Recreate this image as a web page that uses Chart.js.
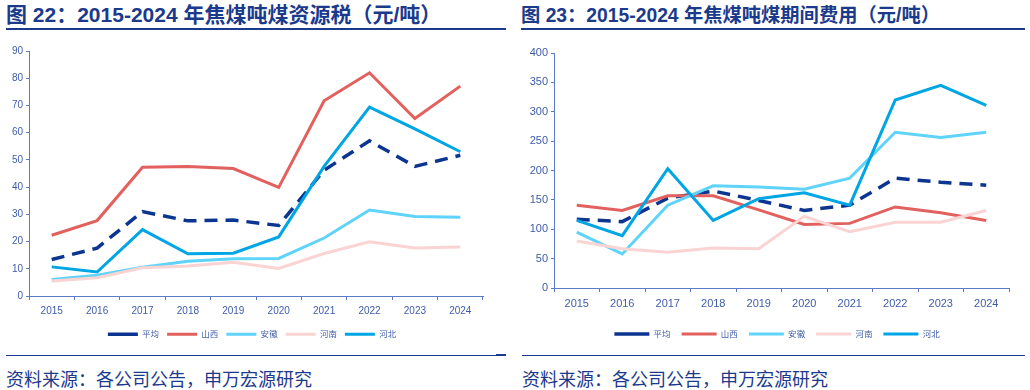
<!DOCTYPE html>
<html><head><meta charset="utf-8">
<script src="https://cdn.jsdelivr.net/npm/chart.js@4.4.1/dist/chart.umd.min.js"></script>
<style>
html,body{margin:0;padding:0;background:#fff;}
body{width:1030px;height:390px;overflow:hidden;position:relative;font-family:"Noto Sans CJK SC",sans-serif;}
.title{position:absolute;top:3px;font-weight:bold;color:#1b3a8c;white-space:nowrap;line-height:24px;font-family:"Liberation Sans","Noto Sans CJK SC",sans-serif;}
.rule{position:absolute;background:#1b3a8c;}
.src{position:absolute;top:366px;font-size:18px;color:#1b3a8c;line-height:24px;white-space:nowrap;}
canvas{position:absolute;}
</style></head><body>
<div class="title" style="left:6px;font-size:21px">图 22：2015-2024 年焦煤吨煤资源税（元/吨）</div>
<div class="title" style="left:521px;font-size:19.3px;top:4px">图 23：2015-2024 年焦煤吨煤期间费用（元/吨）</div>
<div class="rule" style="left:6px;top:28px;width:500px;height:2px"></div>
<div class="rule" style="left:521px;top:28px;width:504px;height:2px"></div>
<div class="rule" style="left:6px;top:355px;width:500px;height:1px"></div>
<div class="rule" style="left:496px;top:354px;width:10px;height:1px"></div>
<div class="rule" style="left:522px;top:355px;width:503px;height:1px"></div>
<div class="src" style="left:6px">资料来源：各公司公告，申万宏源研究</div>
<div class="src" style="left:522px">资料来源：各公司公告，申万宏源研究</div>
<canvas id="c1" width="515" height="320" style="left:0;top:35px"></canvas>
<canvas id="c2" width="515" height="320" style="left:515px;top:35px"></canvas>
<script>
// ---- data ----
const years = ['2015','2016','2017','2018','2019','2020','2021','2022','2023','2024'];
const seriesNames = ['平均','山西','安徽','河南','河北'];

// 图22 吨煤资源税（元/吨）
const avgTax    = [13.4, 17.6, 31.0, 27.6, 27.9, 25.9, 46.2, 57.0, 47.6, 51.7];
const shanxiTax = [22.3, 27.7, 47.3, 47.6, 46.8, 39.9, 71.7, 82.0, 65.2, 77.1];
const anhuiTax  = [6.1, 7.6, 10.6, 12.8, 13.7, 13.8, 21.3, 31.6, 29.2, 28.9];
const henanTax  = [5.5, 6.7, 10.4, 11.0, 12.4, 10.1, 15.6, 19.9, 17.6, 18.0];
const hebeiTax  = [10.7, 8.8, 24.4, 15.5, 15.7, 21.7, 47.6, 69.4, 61.4, 53.0];

// 图23 吨煤期间费用（元/吨）
const avgFee    = [117, 113, 153, 165, 149, 132, 141, 187, 180, 175];
const shanxiFee = [141, 132, 157, 157, 133, 108, 110, 138, 128, 115];
const anhuiFee  = [95, 58, 141, 174, 172, 168, 187, 265, 256, 265];
const henanFee  = [80, 67, 61, 68, 67, 122, 96, 112, 112, 132];
const hebeiFee  = [115, 89, 203, 115, 152, 162, 141, 320, 345, 311];

// ---- styles ----
const colors = ['#0b3590', '#e2605e', '#5fd3fa', '#fad3d3', '#00a6e4'];
const axisColor = '#5a7cc8';
const labelColor = '#3f5ca8';
const narrow = '"Liberation Sans Narrow","Arial Narrow","Liberation Sans",sans-serif';
const cjk = '"Noto Sans CJK SC",sans-serif';

function makeDatasets(arrs, width) {
  return arrs.map((d, i) => ({
    label: seriesNames[i],
    data: d,
    borderColor: colors[i],
    backgroundColor: colors[i],
    borderWidth: i === 0 ? width + 0.5 : width,
    borderDash: i === 0 ? [13, 8] : [],
    pointRadius: 0,
    tension: 0,
    fill: false,
    order: 4 - i
  }));
}

// shifts the legend horizontally so it is centred like the original
const legendShift = {
  id: 'legendShift',
  afterLayout(chart, args, o) {
    if (chart.legend && o.dx) { chart.legend.left += o.dx; chart.legend.right += o.dx; }
  }
};

function makeChart(id, arrs, opt) {
  return new Chart(document.getElementById(id), {
    type: 'line',
    data: { labels: years, datasets: makeDatasets(arrs, opt.lw) },
    plugins: [legendShift],
    options: {
      responsive: false,
      animation: false,
      devicePixelRatio: 1,
      layout: { padding: opt.pad },
      scales: {
        x: {
          offset: true,
          grid: { offset: true, drawOnChartArea: false, drawTicks: true, tickLength: 4, color: axisColor },
          border: { color: axisColor, width: 1 },
          ticks: { color: labelColor, font: { family: narrow, size: opt.xfs }, padding: 5, maxRotation: 0 },
          afterFit: s => { s.height += opt.xExtra; }
        },
        y: {
          min: 0, max: opt.max,
          grid: { drawOnChartArea: false, drawTicks: true, tickLength: 3, color: axisColor },
          border: { color: axisColor, width: 1 },
          ticks: { stepSize: opt.step, color: labelColor, font: { family: narrow, size: opt.yfs }, padding: 3 },
          afterFit: s => { s.width = opt.yw; }
        }
      },
      plugins: {
        tooltip: { enabled: false },
        legendShift: { dx: opt.dx },
        legend: {
          position: 'bottom',
          align: 'center',
          labels: {
            usePointStyle: true,
            pointStyle: 'line',
            pointStyleWidth: opt.lgw,
            boxHeight: 8,
            color: labelColor,
            font: { family: cjk, size: 8.5 },
            padding: opt.lgpad,
            sort: (a, b) => a.datasetIndex - b.datasetIndex,
            generateLabels: (chart) => {
              const items = Chart.defaults.plugins.legend.labels.generateLabels(chart);
              items.forEach(it => { if (it.lineDash && it.lineDash.length) it.lineDash = [17, 8]; });
              return items;
            }
          }
        }
      }
    }
  });
}

makeChart('c1', [avgTax, shanxiTax, anhuiTax, henanTax, hebeiTax], {
  lw: 3, max: 90, step: 10, xfs: 10, yfs: 10, yw: 29, xExtra: 0, lgw: 30, lgpad: 8, dx: 10.5,
  pad: { left: 0, right: 32, top: 16, bottom: 6.5 }
});
makeChart('c2', [avgFee, shanxiFee, anhuiFee, henanFee, hebeiFee], {
  lw: 3, max: 400, step: 50, xfs: 11, yfs: 11, yw: 39, xExtra: 3.5, lgw: 35, lgpad: 11, dx: 15,
  pad: { left: 0, right: 21, top: 18, bottom: 6.8 }
});
</script>
</body></html>
